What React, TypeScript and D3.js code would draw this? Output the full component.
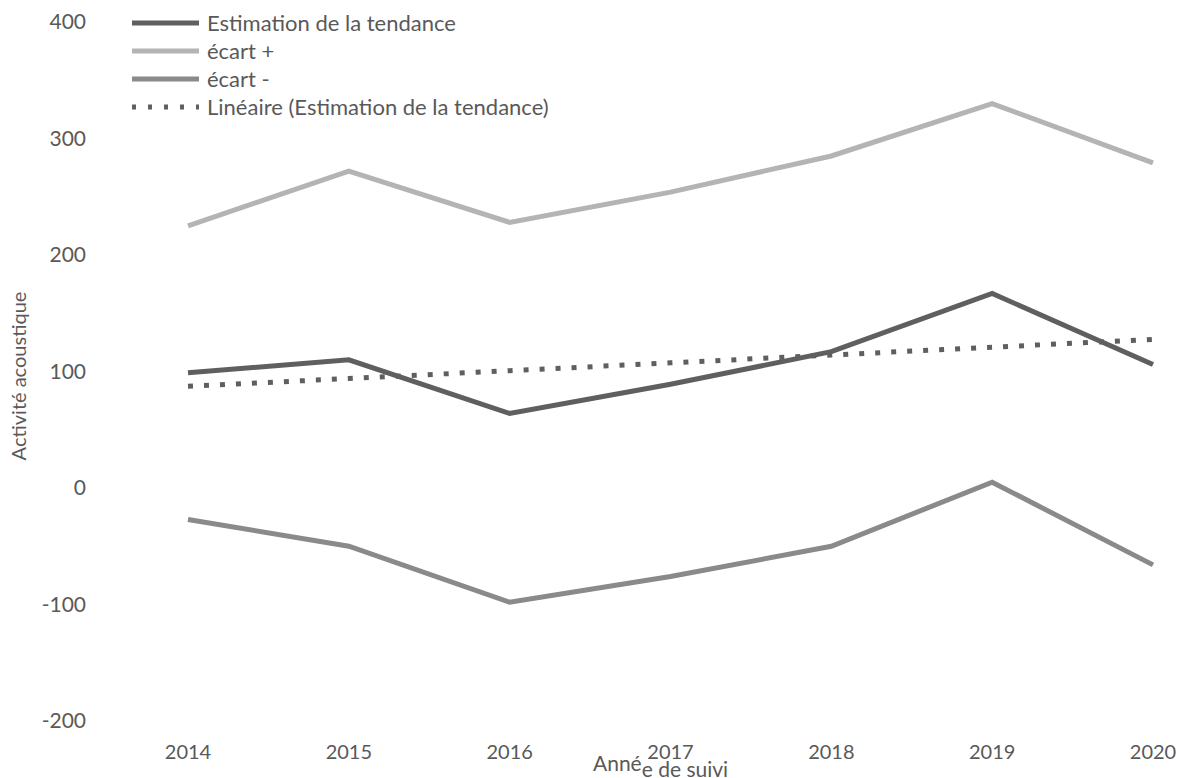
import React from "react";
import * as d3 from "d3";

const years = [2014, 2015, 2016, 2017, 2018, 2019, 2020];
const trend = [99, 110, 64, 89, 117, 167, 106];
const ecartPlus = [225, 272, 228, 254, 285, 330, 279];
const ecartMinus = [-27, -50, -98, -76, -50, 5, -66];
const yTicks = [400, 300, 200, 100, 0, -100, -200];

const legendItems = [
  { label: "Estimation de la tendance", color: "#5f5f5f", dash: "" },
  { label: "écart +", color: "#b4b4b4", dash: "" },
  { label: "écart -", color: "#8a8a8a", dash: "" },
  { label: "Linéaire (Estimation de la tendance)", color: "#5f5f5f", dash: "4 12" },
];

const FONT = "Lato, 'Open Sans', sans-serif";
const TXT = "#595959";

export default function App() {
  const W = 1182, H = 778;
  const x = d3.scalePoint<number>().domain(years).range([188, 1153]);
  const y = d3.scaleLinear().domain([-200, 400]).range([721, 22]);

  // linear regression of trend
  const mx = d3.mean(years)!;
  const my = d3.mean(trend)!;
  const slope = d3.sum(years.map((yr, i) => (yr - mx) * (trend[i] - my))) / d3.sum(years.map((yr) => (yr - mx) ** 2));
  const linear = years.map((yr) => my + slope * (yr - mx));

  const line = d3.line<number>().x((_, i) => x(years[i])!).y((v) => y(v));

  return (
    <svg width={W} height={H} style={{ position: "absolute", left: 0, top: 0, background: "#fff" }} fontFamily={FONT}>
      {yTicks.map((t) => (
        <text key={t} x={86} y={y(t)} dy="0.35em" textAnchor="end" fontSize={21} fill={TXT}>
          {t}
        </text>
      ))}
      {years.map((yr) => (
        <text key={yr} x={x(yr)!} y={752} dy="0.35em" textAnchor="middle" fontSize={20} fill={TXT}>
          {yr}
        </text>
      ))}
      <text transform={`translate(26,376) rotate(-90)`} textAnchor="middle" fontSize={20} fill={TXT}>
        Activité acoustique
      </text>
      <text x={593} y={771} fontSize={21} fill={TXT}>
        <tspan>Anné</tspan>
        <tspan dy={6}>e de suivi</tspan>
      </text>

      <path d={line(ecartPlus)!} fill="none" stroke="#b4b4b4" strokeWidth={5} />
      <path d={line(ecartMinus)!} fill="none" stroke="#8a8a8a" strokeWidth={5} />
      <path d={line(linear)!} fill="none" stroke="#5f5f5f" strokeWidth={5} strokeDasharray="5 11" />
      <path d={line(trend)!} fill="none" stroke="#5f5f5f" strokeWidth={5} />

      {legendItems.map((it, i) => {
        const ly = 23 + i * 28;
        return (
          <g key={it.label}>
            <line x1={132} x2={199} y1={ly} y2={ly} stroke={it.color} strokeWidth={5}
              strokeDasharray={it.dash || undefined} />
            <text x={207} y={ly} dy="0.35em" fontSize={22} fill={TXT}>
              {it.label}
            </text>
          </g>
        );
      })}
    </svg>
  );
}
